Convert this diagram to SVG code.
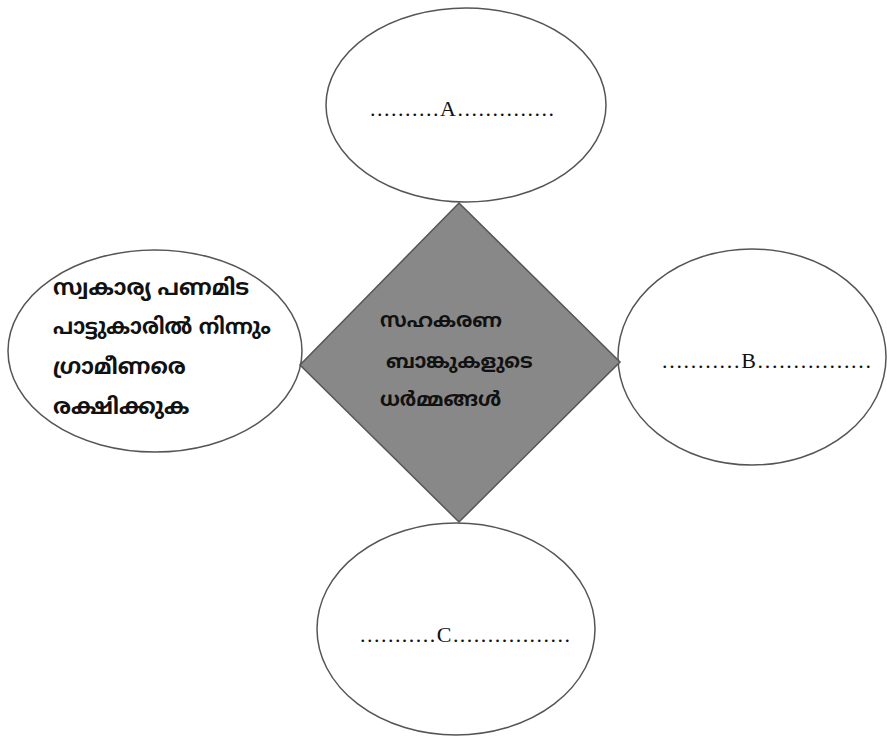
<svg xmlns="http://www.w3.org/2000/svg" width="887" height="738" viewBox="0 0 887 738">
<style>
.ell{fill:#ffffff;stroke:#555555;stroke-width:1.5}
.dia{fill:#888888;stroke:#555555;stroke-width:1.5}
.lat{font-family:"Liberation Serif",serif;font-size:22px;fill:#111111}
.ml{font-family:"Noto Sans Malayalam","Noto Sans",sans-serif;font-weight:bold;font-size:22px;fill:#111111}
.mlc{font-family:"Noto Sans Malayalam","Noto Sans",sans-serif;font-weight:bold;font-size:20px;fill:#111111}
</style>
<g id="connectors"></g>
<g id="node-left">
<ellipse class="ell" cx="155" cy="351" rx="147" ry="101"/>
<text class="ml" x="53" y="295">സ്വകാര്യ പണമിട</text>
<text class="ml" x="53" y="334" textLength="218" lengthAdjust="spacingAndGlyphs">പാട്ടുകാരിൽ നിന്നും</text>
<text class="ml" x="53" y="374">ഗ്രാമീണരെ</text>
<text class="ml" x="53" y="414">രക്ഷിക്കുക</text>
</g>
<g id="node-A">
<ellipse class="ell" cx="466" cy="105" rx="140" ry="97"/>
<text class="lat" x="370" y="116" textLength="184" lengthAdjust="spacing">..........A..............</text>
</g>
<g id="node-B">
<ellipse class="ell" cx="752" cy="357" rx="134" ry="108"/>
<text class="lat" x="662" y="368" textLength="209" lengthAdjust="spacing">...........B................</text>
</g>
<g id="node-C">
<ellipse class="ell" cx="456" cy="629" rx="139" ry="106"/>
<text class="lat" x="360" y="642" textLength="210" lengthAdjust="spacing">...........C.................</text>
</g>
<g id="node-center">
<polygon class="dia" points="459,203 620,362 459,522 300,365"/>
<text class="mlc" x="380" y="327">സഹകരണ</text>
<text class="mlc" x="386" y="368">ബാങ്കുകളുടെ</text>
<text class="mlc" x="380" y="406">ധർമ്മങ്ങൾ</text>
</g>
</svg>
